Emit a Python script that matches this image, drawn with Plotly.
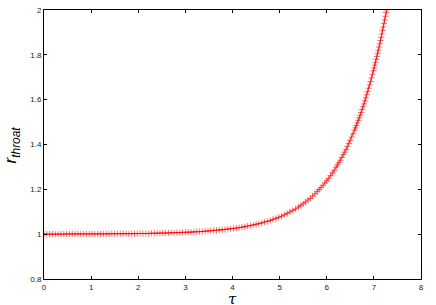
import plotly.graph_objects as go

tau = [
    0.00, 0.06, 0.12, 0.18, 0.24, 0.30, 0.36, 0.42, 0.48, 0.54,
    0.60, 0.66, 0.72, 0.78, 0.84, 0.90, 0.96, 1.02, 1.08, 1.14,
    1.20, 1.26, 1.32, 1.38, 1.44, 1.50, 1.56, 1.62, 1.68, 1.74,
    1.80, 1.86, 1.92, 1.98, 2.04, 2.10, 2.16, 2.22, 2.28, 2.34,
    2.40, 2.46, 2.52, 2.58, 2.64, 2.70, 2.76, 2.82, 2.88, 2.94,
    3.00, 3.06, 3.12, 3.18, 3.24, 3.30, 3.36, 3.42, 3.48, 3.54,
    3.60, 3.66, 3.72, 3.78, 3.84, 3.90, 3.96, 4.02, 4.08, 4.14,
    4.20, 4.26, 4.32, 4.38, 4.44, 4.50, 4.56, 4.62, 4.68, 4.74,
    4.80, 4.86, 4.92, 4.98, 5.04, 5.10, 5.16, 5.22, 5.28, 5.34,
    5.40, 5.45, 5.50, 5.55, 5.60, 5.65, 5.70, 5.75, 5.80, 5.84,
    5.88, 5.92, 5.96, 6.00, 6.04, 6.08, 6.12, 6.16, 6.20, 6.23,
    6.26, 6.29, 6.32, 6.35, 6.38, 6.41, 6.44, 6.47, 6.50, 6.53,
    6.56, 6.59, 6.61, 6.63, 6.65, 6.67, 6.69, 6.71, 6.73, 6.75,
    6.77, 6.79, 6.81, 6.83, 6.85, 6.87, 6.89, 6.91, 6.93, 6.95,
    6.97, 6.99, 7.005, 7.020, 7.035, 7.050, 7.065, 7.080, 7.095, 7.110,
    7.125, 7.140, 7.155, 7.170, 7.185, 7.200, 7.215, 7.230, 7.245, 7.260,
    7.270,
]

r_throat = [
    1.000, 1.000, 1.000, 1.000, 1.000, 1.000, 1.000, 1.000, 1.001, 1.001,
    1.001, 1.001, 1.001, 1.001, 1.001, 1.001, 1.001, 1.001, 1.001, 1.001,
    1.001, 1.001, 1.001, 1.001, 1.002, 1.002, 1.002, 1.002, 1.002, 1.002,
    1.002, 1.002, 1.002, 1.003, 1.003, 1.003, 1.003, 1.003, 1.004, 1.004,
    1.004, 1.004, 1.005, 1.005, 1.005, 1.006, 1.006, 1.007, 1.007, 1.008,
    1.008, 1.009, 1.009, 1.010, 1.011, 1.011, 1.012, 1.013, 1.014, 1.015,
    1.016, 1.017, 1.018, 1.019, 1.021, 1.022, 1.024, 1.025, 1.027, 1.029,
    1.031, 1.033, 1.036, 1.038, 1.041, 1.044, 1.047, 1.050, 1.054, 1.057,
    1.061, 1.066, 1.070, 1.075, 1.080, 1.086, 1.092, 1.099, 1.106, 1.113,
    1.121, 1.128, 1.135, 1.143, 1.152, 1.160, 1.170, 1.180, 1.190, 1.199,
    1.208, 1.218, 1.228, 1.238, 1.249, 1.261, 1.273, 1.285, 1.299, 1.309,
    1.319, 1.330, 1.342, 1.354, 1.366, 1.378, 1.392, 1.405, 1.419, 1.433,
    1.448, 1.464, 1.474, 1.485, 1.496, 1.508, 1.519, 1.531, 1.543, 1.556,
    1.568, 1.581, 1.595, 1.608, 1.622, 1.636, 1.651, 1.666, 1.681, 1.697,
    1.713, 1.729, 1.741, 1.754, 1.767, 1.780, 1.793, 1.807, 1.821, 1.835,
    1.849, 1.864, 1.878, 1.893, 1.909, 1.924, 1.940, 1.956, 1.972, 1.989,
    2.000,
]

x_ticks = [0, 1, 2, 3, 4, 5, 6, 7, 8]
x_tick_labels = ["0", "1", "2", "3", "4", "5", "6", "7", "8"]
y_ticks = [0.8, 1.0, 1.2, 1.4, 1.6, 1.8, 2.0]
y_tick_labels = ["0.8", "1", "1.2", "1.4", "1.6", "1.8", "2"]

fig = go.Figure()
fig.add_trace(go.Scatter(
    x=tau, y=r_throat,
    mode="lines+markers",
    line=dict(color="rgb(255,0,0)", width=0.8),
    marker=dict(symbol="cross-thin", size=4.5, color="rgba(255,0,0,0.55)",
                line=dict(color="rgba(255,0,0,0.55)", width=1)),
    showlegend=False,
))

axis_common = dict(
    showline=True, linecolor="black", linewidth=1, mirror="ticks",
    ticks="inside", ticklen=3, tickcolor="black", tickwidth=1,
    showgrid=False, zeroline=False, automargin=False,
    tickfont=dict(family="Liberation Sans, Arial, sans-serif", size=8, color="#222"),
)

fig.update_layout(
    width=436, height=305,
    margin=dict(l=44, r=15, t=10, b=26),
    paper_bgcolor="white", plot_bgcolor="white",
    xaxis=dict(range=[0, 8], tickvals=x_ticks, ticktext=x_tick_labels, **axis_common),
    yaxis=dict(range=[0.8, 2.0], tickvals=y_ticks, ticktext=y_tick_labels, **axis_common),
    annotations=[
        dict(text="<i>r</i><sub><i>throat</i></sub>", xref="paper", yref="paper",
             x=-0.085, y=0.5, xanchor="center", yanchor="middle", textangle=-90,
             showarrow=False,
             font=dict(family="Liberation Sans, Arial, sans-serif", size=17, color="black")),
        dict(text="<i>τ</i>", xref="paper", yref="paper",
             x=0.5, y=-0.032, xanchor="center", yanchor="top", showarrow=False,
             font=dict(family="DejaVu Serif, serif", size=15, color="black")),
    ],
)

fig.write_html(
    "out.html",
    config={"displayModeBar": False},
    post_script="document.body.style.margin='0';document.body.style.overflow='hidden';",
)
